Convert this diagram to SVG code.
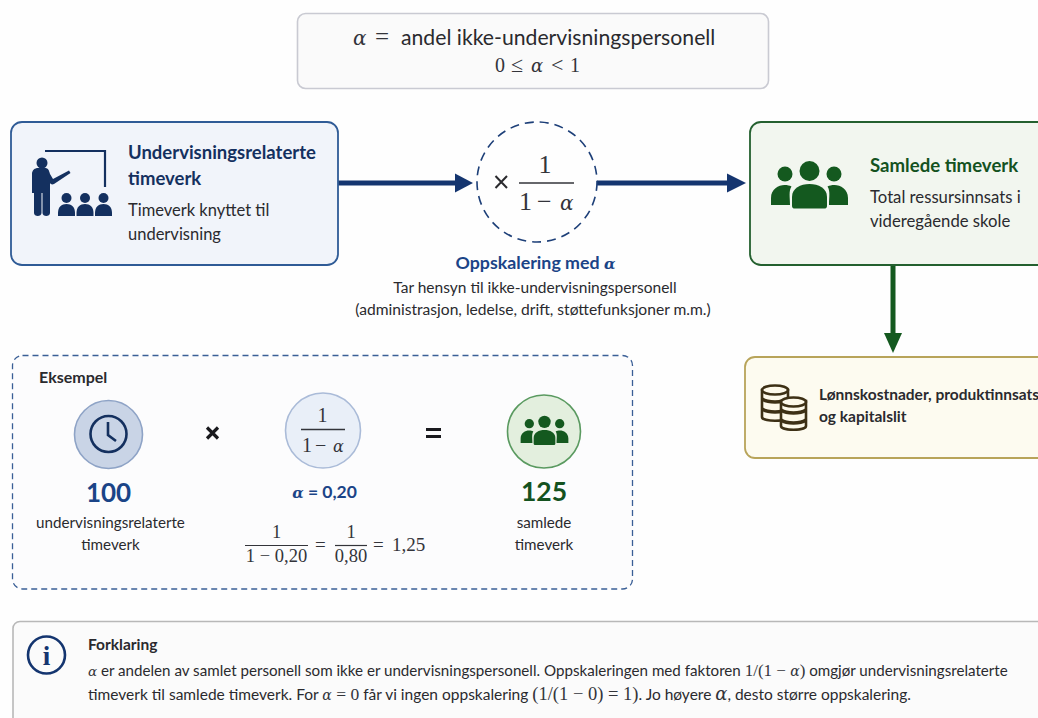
<svg xmlns="http://www.w3.org/2000/svg" width="1038" height="718" viewBox="0 0 1038 718">
<style>
text{font-family:Lato,"Noto Sans",sans-serif;fill:#2a2a2e}
.m{font-family:"Liberation Serif","DejaVu Serif",serif;fill:#33343a}
.i{font-style:italic;font-family:"DejaVu Serif","Liberation Serif",serif}
.mid{text-anchor:middle}
.b{font-weight:700}
.navy{fill:#14305f}
.blue{fill:#1b4487}
.green{fill:#14521f}
.ni{fill:#14305f}
.gi{fill:#14591f}
.coin{fill:#fdf9ea;stroke:#3d3015;stroke-width:2.600}
</style>
<defs>
<g id="people">
<circle cx="-24.500" cy="-15" r="7.500"/><circle cx="24.500" cy="-15" r="7.500"/><circle cx="0" cy="-18" r="10"/>
<path d="M-38.500 16V9C-38.500 0-31-4-25-4C-22-4-20-3.500-18-2.500C-21 2-19.500 8-19.500 16Z"/>
<path d="M38.500 16V9C38.500 0 31-4 25-4C22-4 20-3.500 18-2.500C21 2 19.500 8 19.500 16Z"/>
<path d="M-17.500 17V8C-17.500-1-9-5 0-5S17.500-1 17.500 8V17C17.500 19 16 19.500 15 19.500H-15C-16 19.500-17.500 19-17.500 17Z"/>
</g>
<g id="pupil"><circle cx="0" cy="-7" r="5"/><path d="M-8.500 11V8C-8.500 2-5-1 0-1S8.500 2 8.500 8V11Z"/></g>
</defs>
<rect width="1038" height="718" fill="#fefefe"/>

<g id="connectors">
<path d="M338 183H456" stroke="#14356f" stroke-width="5" fill="none"/>
<path d="M455 173.500L473 183L455 192.500Z" fill="#14356f"/>
<path d="M597 183H728" stroke="#14356f" stroke-width="5" fill="none"/>
<path d="M727 173.500L746 183L727 192.500Z" fill="#14356f"/>
<path d="M893 265V336" stroke="#14591f" stroke-width="5" fill="none"/>
<path d="M884 333H902L893 353Z" fill="#14591f"/>
</g>

<g id="node-alpha">
<rect x="297.500" y="13.500" width="471" height="75" rx="8" fill="#fafafa" stroke="#c9cad2" stroke-width="1.600"/>
<text class="m i" x="353" y="45" font-size="20">α</text>
<text class="m" x="375" y="45" font-size="25">=</text>
<text x="401" y="45" font-size="21.200">andel ikke-undervisningspersonell</text>
<text class="m" x="495" y="72" font-size="20">0</text>
<text class="m" x="511" y="72" font-size="22">≤</text>
<text class="m i" x="531" y="72" font-size="18">α</text>
<text class="m" x="551" y="72" font-size="22">&lt;</text>
<text class="m" x="570" y="72" font-size="20">1</text>
</g>

<g id="node-undervisning">
<rect x="11" y="122" width="327" height="143" rx="11" fill="#f1f4fa" stroke="#2f5b96" stroke-width="1.800"/>
<path d="M45 151H105V187" fill="none" stroke="#14305f" stroke-width="2.200"/>
<g class="ni">
<circle cx="42" cy="163" r="5.500"/>
<path d="M32 193V174C32 170 35 168 38 168H45C48 168 49 170 50 174L53 179L69 170.500L70.500 173L54 184C52 185 50.500 184 50 183V193Z"/>
<path d="M34 192H41.500V213C41.500 217 34 217 34 213ZM42.500 192H50V213C50 217 42.500 217 42.500 213Z"/>
<use href="#pupil" x="66.500" y="205"/><use href="#pupil" x="85" y="205"/><use href="#pupil" x="103.500" y="205"/>
</g>
<text class="b navy" x="128" y="159" font-size="18.500">Undervisningsrelaterte</text>
<text class="b navy" x="128" y="185" font-size="18.500">timeverk</text>
<text x="128" y="216" font-size="16.500">Timeverk knyttet til</text>
<text x="128" y="240" font-size="16.500">undervisning</text>
</g>

<g id="node-oppskalering">
<circle cx="537" cy="182" r="60" fill="#fefefe" stroke="#1d3f78" stroke-width="1.600" stroke-dasharray="9 6"/>
<path d="M495.500 176L507 188M507 176L495.500 188" stroke="#2a2a2e" stroke-width="2"/>
<text class="m mid" x="545" y="173" font-size="26">1</text>
<path d="M519 183H574" stroke="#33343a" stroke-width="1.400"/>
<text class="m" x="519" y="210" font-size="26">1</text>
<text class="m" x="537" y="210" font-size="26">−</text>
<text class="m i" x="560" y="210" font-size="20">α</text>
<text class="b blue mid" x="535.500" y="269" font-size="17.800">Oppskalering med <tspan class="i" font-size="15">α</tspan></text>
<text class="mid" x="535" y="293" font-size="15.500">Tar hensyn til ikke-undervisningspersonell</text>
<text class="mid" x="533" y="315" font-size="15.600">(administrasjon, ledelse, drift, støttefunksjoner m.m.)</text>
</g>

<g id="node-samlede">
<rect x="750" y="122" width="312" height="143" rx="11" fill="#f2f6ef" stroke="#24602f" stroke-width="1.800"/>
<use href="#people" x="809.500" y="189" class="gi"/>
<text class="b green" x="870" y="172" font-size="18.600">Samlede timeverk</text>
<text x="870" y="203" font-size="16.700" fill="#33343a">Total ressursinnsats i</text>
<text x="870" y="227" font-size="16.700">videregående skole</text>
</g>

<g id="node-kostnader">
<rect x="745" y="357" width="317" height="101" rx="10" fill="#fdfbf0" stroke="#b8a45a" stroke-width="1.800"/>
<path class="coin" d="M762 390V417C762 422 788 422 788 417V390Z"/>
<path fill="none" stroke="#3d3015" stroke-width="3.500" d="M762 399C768 403 782 403 788 399M762 409C768 413 782 413 788 409"/>
<ellipse class="coin" cx="775" cy="390" rx="13" ry="4.500"/>
<path class="coin" d="M781 401V426C781 431 806 431 806 426V401Z"/>
<path fill="none" stroke="#3d3015" stroke-width="3.500" d="M781 410C787 414 800 414 806 410M781 420C787 424 800 424 806 420"/>
<ellipse class="coin" cx="793.500" cy="402" rx="12.500" ry="4.500"/>
<text class="b" x="819" y="400" font-size="15.500">Lønnskostnader, produktinnsats</text>
<text class="b" x="819" y="422" font-size="15.500">og kapitalslit</text>
</g>

<g id="node-eksempel">
<rect x="12.500" y="355.500" width="620" height="233.500" rx="10" fill="#fcfcfd" stroke="#3a5f96" stroke-width="1.300" stroke-dasharray="6 4"/>
<text class="b" x="39" y="383" font-size="16">Eksempel</text>
<circle cx="108.500" cy="434.500" r="34" fill="#c9d4e6" stroke="#8ea3c6" stroke-width="1.600"/>
<circle cx="108.500" cy="434" r="18" fill="none" stroke="#14305f" stroke-width="2.600"/>
<path d="M108 422V435L116 441" fill="none" stroke="#14305f" stroke-width="2.600"/>
<text class="b blue mid" x="108.500" y="502" font-size="26">100</text>
<text class="mid" x="110.500" y="528" font-size="15.200">undervisningsrelaterte</text>
<text class="mid" x="110.500" y="550" font-size="15.200">timeverk</text>
<path d="M207 427.500L218 438.500M218 427.500L207 438.500" stroke="#1a1a1e" stroke-width="3.200"/>
<circle cx="323" cy="430.500" r="37.500" fill="#e9eff8" stroke="#aabbd8" stroke-width="1.600"/>
<text class="m mid" x="322.500" y="422" font-size="20">1</text>
<path d="M301 429.500H345" stroke="#33343a" stroke-width="1.300"/>
<text class="m" x="302" y="452" font-size="20">1</text>
<text class="m" x="315" y="452" font-size="20">−</text>
<text class="m i" x="333" y="452" font-size="16">α</text>
<text class="b blue mid" x="324.500" y="498" font-size="17.500"><tspan class="i" font-size="15">α</tspan> = 0,20</text>
<path d="M426 429.500H441M426 436.500H441" stroke="#1a1a1e" stroke-width="3.200"/>
<circle cx="544" cy="431.500" r="36.500" fill="#e3efde" stroke="#5a9a60" stroke-width="1.600"/>
<use href="#people" transform="translate(544.500 433) scale(.62)" class="gi"/>
<text class="b green mid" x="544" y="501" font-size="26.500">125</text>
<text class="mid" x="544" y="528" font-size="15.200">samlede</text>
<text class="mid" x="544" y="550" font-size="15.200">timeverk</text>
<text class="m mid" x="276.500" y="538" font-size="18.500">1</text>
<path d="M245 545.500H308" stroke="#33343a" stroke-width="1.200"/>
<text class="m mid" x="276.500" y="562" font-size="18.500">1 − 0,20</text>
<text class="m" x="315" y="551" font-size="19">=</text>
<text class="m mid" x="351" y="538" font-size="18.500">1</text>
<path d="M335 545.500H367" stroke="#33343a" stroke-width="1.200"/>
<text class="m mid" x="351" y="562" font-size="18.500">0,80</text>
<text class="m" x="373" y="551" font-size="19">=</text>
<text class="m" x="392" y="551" font-size="19">1,25</text>
</g>

<g id="node-forklaring">
<rect x="13" y="621.500" width="1050" height="110" rx="7" fill="#fbfbfb" stroke="#b8b8b8" stroke-width="1.600"/>
<circle cx="46.500" cy="655" r="18.500" fill="none" stroke="#14356f" stroke-width="2.600"/>
<text x="46.500" y="665" class="m mid b" font-size="27" style="fill:#14356f">i</text>
<text class="b" x="88" y="650" font-size="15.500">Forklaring</text>
<text x="88" y="676" font-size="15.150"><tspan class="m i" font-size="13.500">α</tspan> er andelen av samlet personell som ikke er undervisningspersonell. Oppskaleringen med faktoren <tspan class="m" font-size="17">1/(1 − <tspan class="i" font-size="14">α</tspan>)</tspan> omgjør undervisningsrelaterte</text>
<text x="88" y="700" font-size="15.500">timeverk til samlede timeverk. For <tspan class="m" font-size="17.500"><tspan class="i" font-size="14">α</tspan> = 0</tspan> får vi ingen oppskalering <tspan class="m" font-size="18.500">(1/(1 − 0) = 1)</tspan>. Jo høyere <tspan class="m i" font-size="18">α</tspan>, desto større oppskalering.</text>
</g>
</svg>
